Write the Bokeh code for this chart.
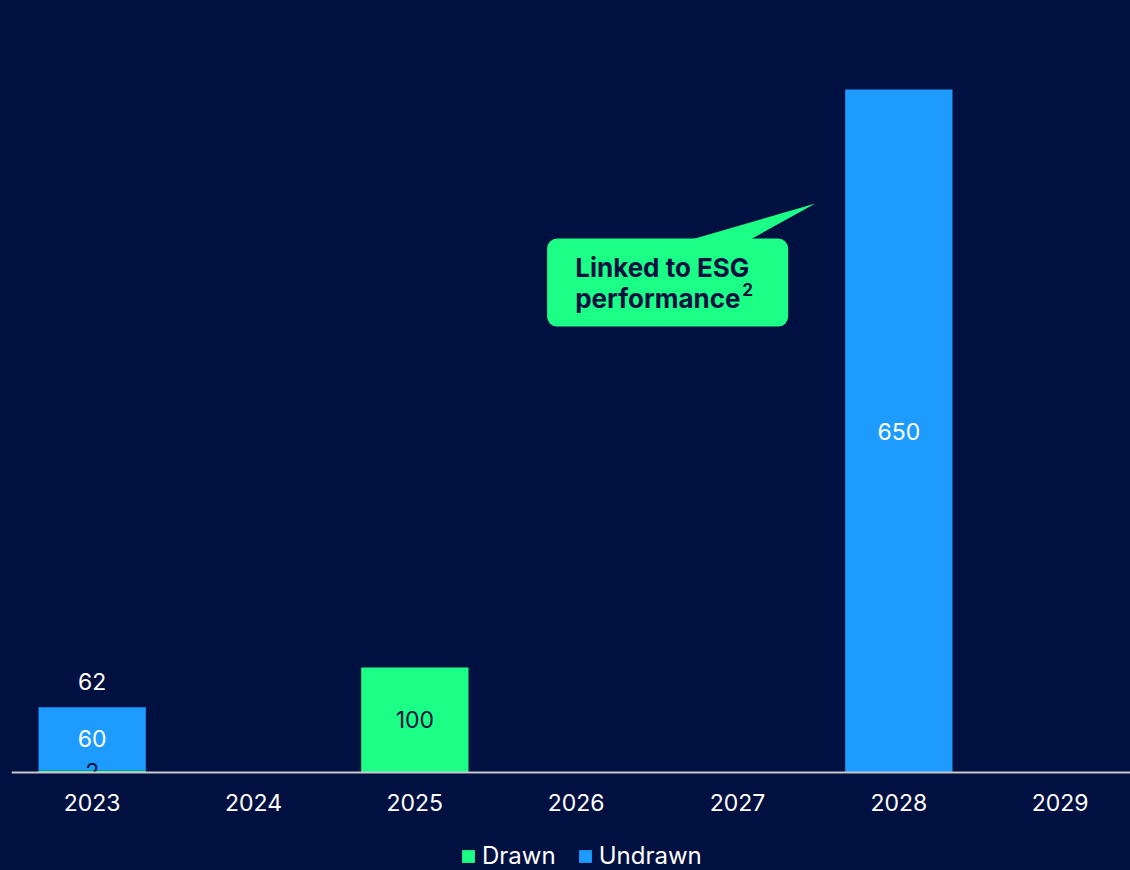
from bokeh.plotting import figure
from bokeh.models import (ColumnDataSource, Range1d, FixedTicker, Legend, LegendItem,
                          BoxAnnotation, Label, LinearAxis)
from bokeh.core.properties import value
from bokeh.embed import file_html
from bokeh.resources import INLINE

# ---- data ----
years = ["2023", "2024", "2025", "2026", "2027", "2028", "2029"]
drawn = [2, 0, 100, 0, 0, 0, 0]
undrawn = [60, 0, 0, 0, 0, 650, 0]
callout_line1 = "Linked to ESG"
callout_line2 = "performance"
callout_sup = "2"

BG = "#001040"
BLUE = "#1E9BFF"
GREEN = "#1BFF87"
NAVY = "#001040"
FONT = "Inter"

xs = list(range(len(years)))
src = ColumnDataSource(dict(x=xs, drawn=drawn, undrawn=undrawn))

p = figure(width=1130, height=870, output_backend="svg", toolbar_location=None,
           x_range=Range1d(-0.5, 6.436), y_range=Range1d(-93.26, 734.7),
           x_axis_location=None, y_axis_location=None,
           min_border_left=11, min_border_right=0, min_border_top=0, min_border_bottom=0,
           background_fill_color=BG, border_fill_color=BG, outline_line_color=None)
p.grid.visible = False

rs = p.vbar_stack(["drawn", "undrawn"], x="x", width=0.665, source=src,
                  color=[GREEN, BLUE], line_color=None)

LBL = "23px"
# value labels
dl_x, dl_y, dl_t = [], [], []
for i, d in enumerate(drawn):
    if d > 0:
        dl_x.append(i); dl_y.append(d / 2); dl_t.append(str(d))
p.text(x=dl_x, y=dl_y, text=dl_t, text_color=NAVY, text_font=value(FONT),
       text_font_size=LBL, text_align="center", text_baseline="middle")

ul_x, ul_y, ul_t = [], [], []
for i, (d, u) in enumerate(zip(drawn, undrawn)):
    if u > 0:
        ul_x.append(i); ul_y.append(d + u / 2); ul_t.append(str(u))
p.text(x=ul_x, y=ul_y, text=ul_t, text_color="white", text_font=value(FONT),
       text_font_size=LBL, text_align="center", text_baseline="middle")

tl_x, tl_y, tl_t = [], [], []
for i, (d, u) in enumerate(zip(drawn, undrawn)):
    if d > 0 and u > 0:
        tl_x.append(i); tl_y.append(d + u); tl_t.append(str(d + u))
p.text(x=tl_x, y=tl_y, text=tl_t, y_offset=-26, text_color="white", text_font=value(FONT),
       text_font_size=LBL, text_align="center", text_baseline="middle")

# callout
p.add_layout(BoxAnnotation(left=2.82, right=4.314, bottom=424.4, top=508.2,
                           fill_color=GREEN, fill_alpha=1, line_color=None, border_radius=10))
p.patch(x=[3.688, 4.482, 4.066], y=[506, 541.5, 506], fill_color=GREEN, line_color=None)
p.add_layout(Label(x=2.994, y=480.6, text=callout_line1, text_color=NAVY, text_font=FONT,
                   text_font_size="26px", text_font_style="bold",
                   text_baseline="middle", text_align="left"))
p.add_layout(Label(x=2.994, y=451.1, text=callout_line2, text_color=NAVY, text_font=FONT,
                   text_font_size="26px", text_font_style="bold",
                   text_baseline="middle", text_align="left"))
p.add_layout(Label(x=4.029, y=459.5, text=callout_sup, text_color=NAVY, text_font=FONT,
                   text_font_size="17px", text_font_style="bold",
                   text_baseline="middle", text_align="left"))

# axis at y = 0
ax = LinearAxis(fixed_location=0, ticker=FixedTicker(ticks=xs),
                major_label_overrides={i: y for i, y in enumerate(years)})
ax.major_tick_line_color = None
ax.minor_tick_line_color = None
ax.axis_line_color = "#C8C8C8"
ax.axis_line_width = 2
ax.major_label_text_color = "white"
ax.major_label_text_font = FONT
ax.major_label_text_font_size = "23px"
ax.major_label_standoff = 15
p.add_layout(ax, "below")

legend = Legend(items=[LegendItem(label="Drawn", renderers=[rs[0]]),
                       LegendItem(label="Undrawn", renderers=[rs[1]])],
                orientation="horizontal", location=(449, 0),
                background_fill_alpha=0, border_line_color=None,
                label_text_color="white", label_text_font=FONT,
                label_text_font_size="24px", glyph_width=16, glyph_height=16,
                label_height=14, label_standoff=6, spacing=21, padding=0, margin=0)
p.add_layout(legend)

html = file_html(p, INLINE)
html = html.replace("</head>",
                    "<style>html,body{margin:0;padding:0;background:#001040;}</style></head>", 1)
open("out.html", "w").write(html)
